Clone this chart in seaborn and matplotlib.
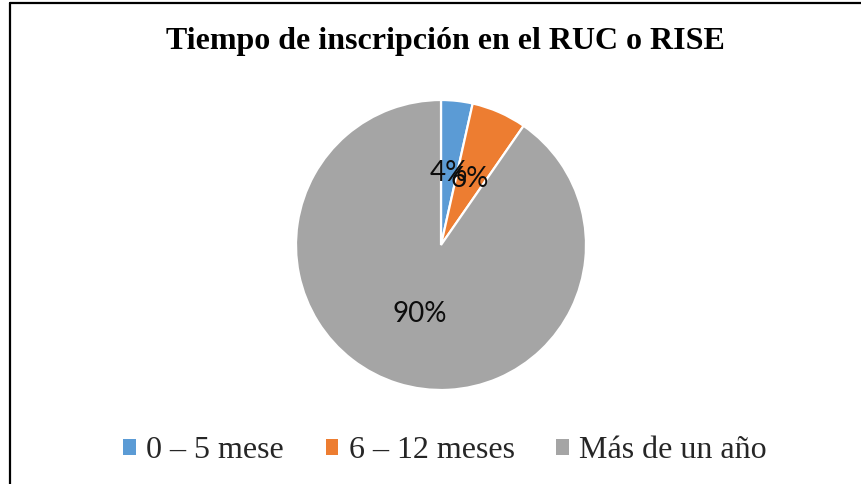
import matplotlib
matplotlib.use("Agg")
import matplotlib.pyplot as plt
import seaborn as sns
import numpy as np
from matplotlib.patches import Patch
from matplotlib.lines import Line2D

# Data
categories = ["0 – 5 mese", "6 – 12 meses", "Más de un año"]
counts = [4, 7, 103]
pct_labels = ["4%", "6%", "90%"]
colors = ["#5B9BD5", "#ED7D31", "#A5A5A5"]
title = "Tiempo de inscripción en el RUC o RISE"

sns.set_style("white")
plt.rcParams["font.family"] = ["Liberation Serif", "DejaVu Serif"]

W, H = 861, 484
fig = plt.figure(figsize=(W / 100, H / 100), dpi=100)
fig.patch.set_facecolor("white")

cx, cy, r = 441, 245, 145
ax = fig.add_axes([(cx - r) / W, (H - cy - r) / H, 2 * r / W, 2 * r / H])
wedges, _ = ax.pie(counts, colors=colors, startangle=90, counterclock=False,
                   radius=1.0, wedgeprops=dict(edgecolor="white", linewidth=1.6))
for w, lab in zip(wedges, pct_labels):
    th = np.deg2rad((w.theta1 + w.theta2) / 2)
    d = 0.5
    ax.text(d * np.cos(th), d * np.sin(th), lab, ha="center", va="center",
            fontsize=20, family=["Lato", "DejaVu Sans"], color="#0d0d0d")
ax.set_xlim(-1, 1)
ax.set_ylim(-1, 1)
ax.set_aspect("equal")
ax.axis("off")

fig.text(445 / W, 1 - 41 / H, title, ha="center", va="center",
         fontsize=23, fontweight="bold", color="black")

handles = [Patch(facecolor=c, edgecolor="none") for c in colors]
leg = fig.legend(handles, categories, loc="center", bbox_to_anchor=(445 / W, 1 - 451 / H),
                 ncol=3, frameon=False, fontsize=23, handlelength=0.4, handleheight=0.4,
                 handletextpad=0.32, columnspacing=1.3)

# Chart border (partially cropped)
ytop = 1 - 2.5 / H
xl = 10 / W
fig.add_artist(Line2D([xl, xl], [0, ytop], transform=fig.transFigure, color="black", lw=1.6))
fig.add_artist(Line2D([xl, 1], [ytop, ytop], transform=fig.transFigure, color="black", lw=1.6))

fig.savefig("out.png", dpi=100, facecolor="white")
